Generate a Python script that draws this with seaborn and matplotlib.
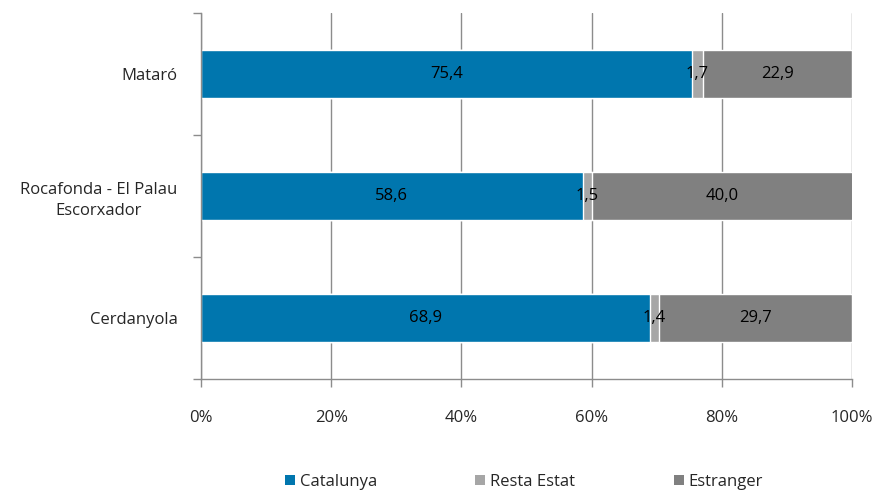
import numpy as np
import pandas as pd
import matplotlib
matplotlib.use("Agg")
import matplotlib.pyplot as plt
import seaborn as sns
from matplotlib.patches import Patch
from matplotlib.ticker import PercentFormatter

# data (percent)
zones = ["Mataró", "Rocafonda - El Palau\nEscorxador", "Cerdanyola"]
catalunya = [75.4, 58.6, 68.9]
resta_estat = [1.7, 1.5, 1.4]
estranger = [22.9, 40.0, 29.7]
series = ["Catalunya", "Resta Estat", "Estranger"]
colors = ["#0076AE", "#A6A6A6", "#808080"]

sns.set_style("white")
plt.rcParams["font.family"] = ["Open Sans", "DejaVu Sans"]

df = pd.DataFrame({"zona": zones, "Catalunya": catalunya,
                   "Resta Estat": resta_estat, "Estranger": estranger})
cum = df[series].cumsum(axis=1)

fig = plt.figure(figsize=(8.76, 4.9), dpi=100)
ax = fig.add_axes([0.2295, 0.2265, 0.7431, 0.747])

# vertical grid first
for gx in range(0, 101, 20):
    ax.axvline(gx, color="#8C8C8C", lw=1.0, zorder=0)

# stacked: draw cumulative totals back to front
for s, c in reversed(list(zip(series, colors))):
    sns.barplot(x=cum[s], y=df["zona"], orient="h", color=c, width=0.39,
                saturation=1, ax=ax, zorder=2)

# value labels centred on each segment
for i in range(len(zones)):
    left = 0
    for s in series:
        v = df[s].iloc[i]
        ax.text(left + v / 2, i, f"{v:.1f}".replace(".", ","), ha="center",
                va="center", fontsize=12, color="black", zorder=3)
        left += v

ax.set_xlim(0, 100)
ax.set_ylim(2.5, -0.5)
ax.set_xticks(range(0, 101, 20))
ax.xaxis.set_major_formatter(PercentFormatter(decimals=0))
ax.set_xlabel("")
ax.set_ylabel("")

ax.set_yticks([0, 1, 2])
ax.set_yticklabels(zones, multialignment="center", linespacing=1.45)
ax.set_yticks([-0.5, 0.5, 1.5, 2.5], minor=True)
ax.tick_params(axis="y", which="major", left=True, length=0, pad=17, labelsize=12)
ax.tick_params(axis="y", which="minor", left=True, length=6, width=1.0,
               color="#8C8C8C", direction="out")
ax.tick_params(axis="x", which="major", bottom=True, length=6, width=1.0,
               color="#8C8C8C", direction="out", pad=16, labelsize=12)

for sp in ["top", "right"]:
    ax.spines[sp].set_visible(False)
for sp in ["left", "bottom"]:
    ax.spines[sp].set_color("#8C8C8C")
    ax.spines[sp].set_linewidth(1.0)

handles = [Patch(facecolor=c, edgecolor="none", label=s) for s, c in zip(series, colors)]
fig.legend(handles=handles, loc="lower center", bbox_to_anchor=(0.598, -0.03),
           ncol=3, frameon=False, fontsize=12, handlelength=0.6,
           handleheight=0.6, handletextpad=0.3, columnspacing=5.9)

fig.savefig("out.png", dpi=100)
